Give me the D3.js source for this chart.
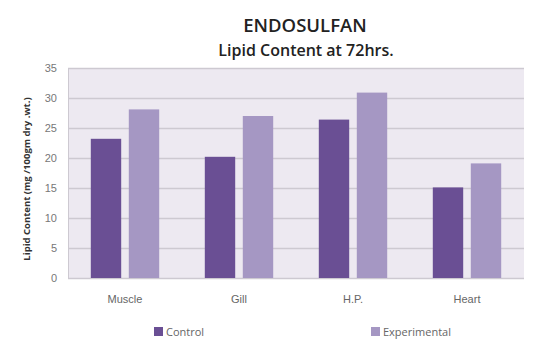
<!DOCTYPE html>
<html>
<head>
<meta charset="utf-8">
<script src="https://cdn.jsdelivr.net/npm/d3@7"></script>
<style>
  body { margin: 0; background: #fff; }
  svg { display: block; font-family: "Open Sans", Lato, sans-serif; }
</style>
</head>
<body>
<div id="chart"></div>
<script>
// data
const categories = ["Muscle", "Gill", "H.P.", "Heart"];
const seriesNames = ["Control", "Experimental"];
const control = [23.2, 20.2, 26.4, 15.1];
const experimental = [28.1, 27.0, 30.9, 19.1];
const yTicks = [0, 5, 10, 15, 20, 25, 30, 35];

const width = 534, height = 341;
const margin = { top: 68, right: 10, bottom: 63, left: 68 };
const colors = ["#6a4f94", "#a597c3"];

const svg = d3.select("#chart").append("svg")
  .attr("width", width).attr("height", height);

// scales
const x = d3.scaleBand().domain(categories)
  .range([margin.left, width - margin.right]).paddingInner(0.4).paddingOuter(0.2);
const x1 = d3.scaleBand().domain(seriesNames)
  .range([0, x.bandwidth()]).paddingInner(0.2);
const y = d3.scaleLinear().domain([0, 35])
  .range([height - margin.bottom, margin.top]);

// plot background
svg.append("rect")
  .attr("x", margin.left).attr("y", y(35))
  .attr("width", width - margin.right - margin.left)
  .attr("height", y(0) - y(35))
  .attr("fill", "#ede9f1");

// grid
svg.append("g").selectAll("line").data(yTicks).join("line")
  .attr("x1", margin.left).attr("x2", width - margin.right)
  .attr("y1", d => y(d) + 0.5).attr("y2", d => y(d) + 0.5)
  .attr("stroke", "#cdc9d1").attr("stroke-width", 1.5);

svg.append("line")
  .attr("x1", margin.left + 0.5).attr("x2", margin.left + 0.5)
  .attr("y1", y(35)).attr("y2", y(0))
  .attr("stroke", "#cdc9d1");

// y axis
const yAxis = svg.append("g")
  .attr("transform", `translate(${margin.left},0)`)
  .call(d3.axisLeft(y).tickValues(yTicks).tickSize(0).tickPadding(11));
yAxis.select(".domain").remove();
yAxis.selectAll("text").attr("fill", "#777").attr("font-size", 11);

// x axis
const xAxis = svg.append("g")
  .attr("transform", `translate(0,${y(0)})`)
  .call(d3.axisBottom(x).tickSize(0).tickPadding(17));
xAxis.select(".domain").remove();
xAxis.selectAll("text").attr("fill", "#666").attr("font-size", 11);

// bars
const data = categories.map((c, i) => ({ cat: c, vals: [control[i], experimental[i]] }));
svg.append("g").selectAll("g").data(data).join("g")
  .attr("transform", d => `translate(${x(d.cat)},0)`)
  .selectAll("rect").data(d => d.vals.map((v, j) => ({ s: seriesNames[j], v, j })))
  .join("rect")
  .attr("x", d => x1(d.s))
  .attr("y", d => y(d.v))
  .attr("width", x1.bandwidth())
  .attr("height", d => y(0) - y(d.v))
  .attr("fill", d => colors[d.j]);

// titles
svg.append("text").attr("x", 305).attr("y", 32)
  .attr("text-anchor", "middle").attr("font-size", 18.5).attr("font-weight", 600)
  .attr("fill", "#222").text("ENDOSULFAN");
svg.append("text").attr("x", 306).attr("y", 56)
  .attr("text-anchor", "middle").attr("font-size", 16).attr("font-weight", 600)
  .attr("fill", "#222").text("Lipid Content at 72hrs.");

svg.append("text")
  .attr("transform", `translate(30,${(y(0) + y(35)) / 2 + 6}) rotate(-90)`)
  .attr("text-anchor", "middle").attr("font-size", 9.5).attr("font-weight", "bold")
  .attr("fill", "#333").text("Lipid Content (mg /100gm dry .wt.)");

// legend
const legendX = [154, 371];
const legend = svg.append("g").selectAll("g").data(seriesNames).join("g")
  .attr("transform", (d, i) => `translate(${legendX[i]},327)`);
legend.append("rect").attr("width", 9).attr("height", 9).attr("fill", (d, i) => colors[i]);
legend.append("text").attr("x", 12).attr("y", 8.5)
  .attr("font-size", 11).attr("fill", "#666").text(d => d);
</script>
</body>
</html>
